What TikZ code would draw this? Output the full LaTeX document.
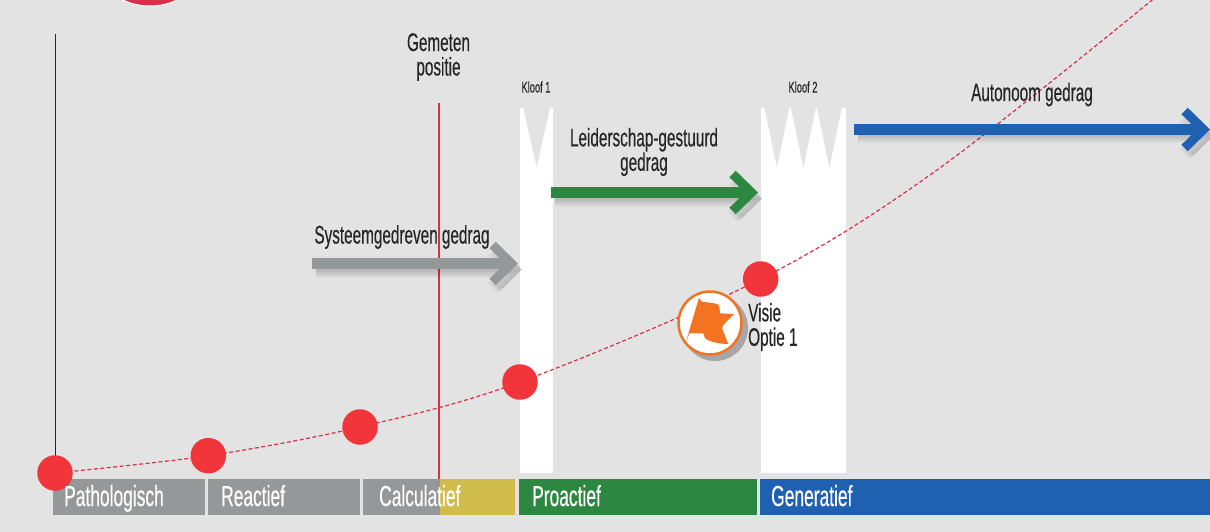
\documentclass[tikz,border=0pt]{standalone}
\usepackage{fontspec}
\setmainfont[FakeStretch=0.6,FakeBold=0.35]{Liberation Sans}
\usetikzlibrary{arrows.meta,positioning}

\definecolor{bgcol}{HTML}{E3E3E3}
\definecolor{barGray}{HTML}{959899}
\definecolor{barYellow}{HTML}{CFBC4B}
\definecolor{barGreen}{HTML}{2C8840}
\definecolor{barBlue}{HTML}{2060B0}
\definecolor{dotRed}{HTML}{F1353A}
\definecolor{lineRed}{HTML}{D9304A}
\definecolor{flagOrange}{HTML}{F47321}
\definecolor{txtcol}{HTML}{262626}

\tikzset{
    dot/.style={circle,fill=dotRed,inner sep=0pt,minimum size=35.5pt},
    lbl/.style={inner sep=0pt,text=txtcol,font=\fontsize{25.5}{24.5}\selectfont,align=center},
    smalllbl/.style={inner sep=0pt,text=txtcol,font=\fontsize{15.5}{17}\selectfont},
    barlbl/.style={inner sep=0pt,anchor=base west,text=white,font=\fontsize{29}{30}\selectfont},
    fatarrow/.style={line width=11pt,-{Straight Barb[length=19pt,width=37pt,line width=9pt]}}
}

% arrow with a soft shadow below it
\newcommand{\shadowarrow}[3]{
    \foreach \extra in {0,2,...,14}
        \draw[line width=2pt+\extra pt,draw=black,opacity=0.022,transform canvas={shift={(4pt,-6pt)}},
              -{Straight Barb[length=19pt,width=37pt,line width=1pt+\extra pt]}] (#1) -- (#2);
    \draw[fatarrow,draw=#3] (#1) -- (#2);
}

\begin{document}
\begin{tikzpicture}[x=1pt,y=-1pt]
    \useasboundingbox (0,0) rectangle (1210,532);
    \fill[bgcol] (0,0) rectangle (1210,532);

    % bars
    \foreach \xa/\xb/\barcol in {53/205/barGray, 208/360/barGray, 363/441/barGray, 440/515/barYellow, 519/757/barGreen, 760/1210/barBlue}
        \fill[\barcol] (\xa,479) rectangle (\xb,515);

    % gaps
    \fill[white] (520,108) rectangle (553,473);
    \fill[white] (761,108) rectangle (846,473);
    \fill[bgcol] (523.3,108) -- (550,108) -- (536.7,167.5) -- cycle;
    \foreach \x in {764.5,791,817}
        \fill[bgcol] (\x,108) -- (\x+24.8,108) -- (\x+12.4,167.5) -- cycle;

    % top circle
    \filldraw[fill=lineRed,draw=white,line width=1pt] (150,-58) circle (64);

    \coordinate (axisTop) at (55.5,34);
    \coordinate (axisEnd) at (55.5,473);
    \coordinate (meetTop) at (438.5,103);
    \coordinate (meetEnd) at (438.5,479);
    \draw[line width=1.2pt,draw=black!85] (axisTop) -- (axisEnd);
    \draw[line width=2pt,draw=lineRed] (meetTop) -- (meetEnd);

    % curve and its points
    \coordinate (ptA) at (55,473);
    \coordinate (ptB) at (208.3,455.7);
    \coordinate (ptC) at (360,427);
    \coordinate (ptD) at (520,382);
    \coordinate (ptE) at (760.7,279);
    \coordinate (curveMid) at (937,170);
    \coordinate (curveEnd) at (1157,-4);
    \draw[lineRed,line width=1.2pt,dash pattern=on 4pt off 2.5pt]
        plot[smooth,tension=0.55] coordinates {(ptA) (ptB) (ptC) (ptD) (ptE) (curveMid) (curveEnd)};
    \foreach \pt in {A,B,C,D,E}
        \node[dot] (dot\pt) at (pt\pt) {};

    % arrows
    \coordinate (graySt) at (312,263.5);
    \coordinate (grayEnd) at (518,263.5);
    \coordinate (greenSt) at (551,192.5);
    \coordinate (greenEnd) at (758,192.5);
    \coordinate (blueSt) at (854,129.5);
    \coordinate (blueEnd) at (1210,129.5);
    \shadowarrow{graySt}{grayEnd}{barGray}
    \shadowarrow{greenSt}{greenEnd}{barGreen}
    \shadowarrow{blueSt}{blueEnd}{barBlue}

    % flag badge
    \fill[black!35] (715,328) circle (33);
    \node[circle,draw=flagOrange,fill=white,line width=2.5pt,inner sep=0pt,minimum size=63pt] (badge) at (710,323) {};
    \fill[flagOrange] (699,297.7) -- (701.7,301.7) -- (710,302.7)
        .. controls (714,303) and (719,304) .. (719.3,306)
        -- (720,313.3) -- (734,314) -- (723.3,325)
        .. controls (722,327) and (722,329) .. (722.7,330)
        -- (728.3,344)
        .. controls (720,344) and (710,342) .. (705,338.3)
        -- (703.3,333.3) -- (689.3,333.3) -- (686,341.7) -- cycle;

    % labels
    \foreach \x/\barname in {64/Pathologisch, 221/Reactief, 379/Calculatief, 532/Proactief, 771/Generatief}
        \node[barlbl] (bar\barname) at (\x,506) {\barname};

    \node[lbl] (lblMeet) at (438.5,57) {Gemeten\\positie};
    \node[smalllbl] (lblGapA) at (536,87) {Kloof 1};
    \node[smalllbl] (lblGapB) at (803,87) {Kloof 2};
    \node[lbl] (lblLead) at (644,152) {Leiderschap-gestuurd\\gedrag};
    \node[lbl] (lblAuto) at (1032,94.5) {Autonoom gedrag};
    \node[lbl] (lblSys) at (402,237) {Systeemgedreven gedrag};
    \node[lbl,align=left,anchor=west] (lblVisie) at (748,327) {Visie\\Optie 1};
\end{tikzpicture}
\end{document}
